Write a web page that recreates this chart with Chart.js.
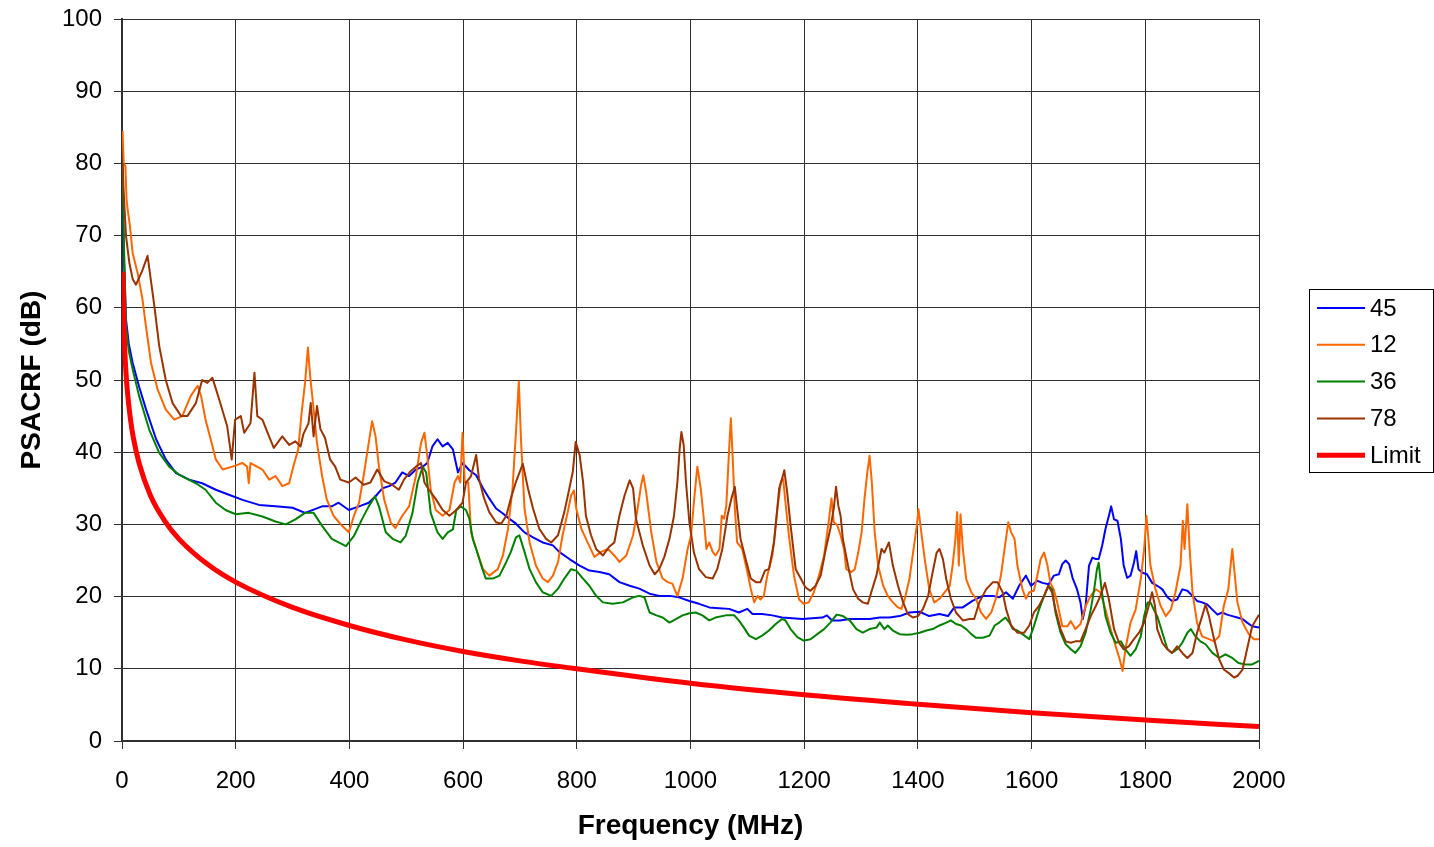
<!DOCTYPE html>
<html lang="en">
<head>
    <meta charset="UTF-8">
    <title>PSACRF</title>
    <script src="https://cdn.jsdelivr.net/npm/chart.js"></script>
    <style>
        body { margin: 0; background: #fff; }
    </style>
</head>
<body>
    <canvas id="psacrf-chart" width="1434" height="847"></canvas>

    <script>
        // axis ticks
        const xTicks = [0, 200, 400, 600, 800, 1000, 1200, 1400, 1600, 1800, 2000];
        const yTicks = [0, 10, 20, 30, 40, 50, 60, 70, 80, 90, 100];

        // series, [MHz, dB]
        const s45 = [[1,78],[3,68],[7,58.4],[12,55],[18.7,52.4],[30,49.1],[42,46],[60,41.8],[77,39],[95,37.1],[118,36.2],[141,35.7],[165,34.8],[188,34.1],[212,33.4],[241,32.7],[270,32.5],[300,32.3],[322,31.6],[352,32.5],[369,32.5],[381,33],[399,32],[417,32.5],[434,33],[446,33.9],[458,35],[470,35.3],[481,35.8],[493,37.2],[505,36.7],[517,37.6],[529,38],[537,38.5],[546,40.8],[555,41.8],[564,40.8],[573,41.3],[582,40.4],[591,37.2],[599,38.5],[611,37.5],[623,36.8],[635,35],[646,33.6],[658,32.2],[670,31.5],[681,30.8],[693,30.1],[708,28.9],[723,28.2],[740,27.5],[758,27.1],[769,26.2],[787,25.2],[805,24.3],[822,23.6],[840,23.4],[857,23.1],[875,22],[893,21.5],[910,21.1],[928,20.4],[945,20.1],[963,20.1],[980,19.9],[998,19.4],[1015,19],[1033,18.5],[1050,18.4],[1068,18.3],[1085,17.8],[1100,18.3],[1109,17.6],[1126,17.6],[1144,17.4],[1161,17.1],[1179,17],[1197,16.9],[1214,17],[1232,17.1],[1240,17.4],[1249,16.7],[1263,16.7],[1280,16.9],[1298,16.9],[1315,16.9],[1333,17.1],[1350,17.1],[1368,17.3],[1385,17.8],[1403,17.9],[1420,17.3],[1438,17.6],[1453,17.3],[1464,18.5],[1479,18.5],[1496,19.4],[1514,20.1],[1532,20.1],[1543,19.9],[1555,20.6],[1567,19.7],[1578,21.5],[1590,22.9],[1599,21.5],[1610,22.2],[1619,21.9],[1630,21.7],[1639,22.9],[1648,23.1],[1654,24.5],[1660,25],[1666,24.5],[1672,22.6],[1680,21],[1686,19.2],[1690,16.9],[1695,18.7],[1701,24.3],[1707,25.4],[1713,25.2],[1718,25.2],[1724,27],[1730,29.4],[1736,31.2],[1740,32.5],[1745,30.7],[1751,30.5],[1757,28],[1762,24.3],[1768,22.6],[1774,22.9],[1780,24.7],[1784,26.3],[1788,23.8],[1795,23.3],[1803,23.1],[1812,21.9],[1821,21.5],[1830,21],[1839,19.9],[1847,19.4],[1856,19.6],[1865,21],[1874,20.8],[1883,20.1],[1891,19.4],[1900,19.2],[1909,18.9],[1918,18.2],[1927,17.5],[1935,17.8],[1944,17.5],[1953,17.3],[1962,17.1],[1971,16.9],[1979,16.4],[1988,15.9],[2000,15.7]];

        const s12 = [[1,84.5],[3,80],[6,79.6],[8,75],[10,73.6],[14,71.3],[18.7,67.6],[27.5,64.8],[36,61.2],[42,57.5],[51,52.4],[62.6,48.7],[77,45.9],[92,44.5],[106,45],[121,47.8],[133,49.2],[139,47.8],[147,44.5],[156,41.8],[165,39],[177,37.6],[194,38],[212,38.5],[220,38],[223,35.7],[226,38.5],[247,37.6],[259,36.2],[270,36.7],[282,35.3],[294,35.7],[302,38.2],[310,40.4],[316,45.5],[322,49.6],[327,54.5],[331,50.5],[337,46],[343,41.3],[352,36.7],[360,33.5],[372,31.2],[387,29.8],[399,28.9],[408,31.2],[417,33],[425,36.7],[434,41.3],[440,44.3],[446,42.2],[452,38],[461,33.5],[473,30.2],[481,29.5],[493,31.2],[505,32.5],[517,36.7],[526,41.3],[532,42.7],[537,39.5],[543,34.8],[552,32],[564,31.2],[576,32],[585,35.8],[591,36.7],[595,35.8],[599,42.7],[603,35.8],[609,35.8],[614,28.9],[623,26.6],[635,23.8],[646,22.9],[661,23.8],[670,25.7],[679,29.4],[687,35],[693,42.8],[698,49.8],[702,41.4],[708,32.2],[717,27.5],[728,24.3],[740,22.5],[749,22],[758,22.9],[767,24.8],[775,28.5],[784,31.7],[790,34],[795,34.7],[799,32.2],[808,29.4],[819,27.5],[831,25.5],[843,26.2],[855,26.6],[866,25.7],[875,24.8],[887,25.7],[899,28.5],[907,32.2],[913,35.4],[917,36.8],[922,34.5],[931,28.9],[940,24.8],[951,22.5],[960,22],[968,21.8],[977,20.1],[986,22.5],[995,26.6],[1001,28.5],[1006,33.1],[1012,38],[1018,35],[1024,30.3],[1028,26.6],[1033,27.5],[1039,26.2],[1044,25.7],[1051,26.6],[1055,31.2],[1059,30.8],[1063,32.6],[1068,40.5],[1071,44.7],[1074,39.6],[1078,32.2],[1082,27.5],[1091,26.6],[1100,23.4],[1106,21.1],[1112,19.2],[1118,20.1],[1123,19.6],[1129,20.1],[1135,22.9],[1144,25.7],[1153,32.2],[1159,35.9],[1163,36.3],[1167,33.1],[1173,28.5],[1182,22.9],[1191,19.6],[1199,19],[1208,19.2],[1217,20.6],[1226,22.9],[1235,25.7],[1243,30.3],[1248,33.6],[1252,30.3],[1258,29.9],[1264,28.5],[1270,26.6],[1274,23.8],[1283,23.4],[1289,23.8],[1295,26.1],[1301,28.9],[1306,33.5],[1311,37.2],[1315,39.5],[1319,35.8],[1324,28.9],[1330,24.3],[1339,21.5],[1347,20.1],[1356,19.2],[1365,18.5],[1371,18.3],[1377,19.7],[1385,22.4],[1394,27.5],[1398,29.8],[1401,32.1],[1406,28.9],[1412,25.2],[1420,21],[1429,19.2],[1438,19.7],[1447,20.6],[1456,21.5],[1461,24.3],[1466,28],[1469,31.7],[1472,24.3],[1475,31.4],[1479,26.6],[1485,22.4],[1494,20.6],[1502,19.7],[1511,17.8],[1520,16.9],[1529,17.8],[1537,19.7],[1546,22.9],[1554,27.5],[1559,30.3],[1564,28.9],[1570,28],[1575,24.3],[1584,21],[1590,19.7],[1596,20.6],[1604,20.8],[1610,22.9],[1616,25.2],[1622,26.1],[1628,24.3],[1633,21.9],[1639,21],[1645,19.2],[1654,15.9],[1663,15.9],[1669,16.6],[1677,15.5],[1686,16.2],[1695,18.7],[1704,20.1],[1713,21],[1721,20.6],[1730,18.2],[1739,15.5],[1748,13.1],[1755,11.3],[1760,9.7],[1765,12.7],[1774,16.4],[1783,18.2],[1792,22.4],[1798,26.6],[1802,31.2],[1805,28.4],[1809,24.3],[1818,21],[1827,18.7],[1836,17.3],[1845,18.2],[1853,20.6],[1862,24.3],[1866,30.5],[1869,26.6],[1874,32.8],[1878,26.6],[1883,20.6],[1891,16.4],[1900,14.5],[1912,14.1],[1921,13.8],[1930,14.5],[1938,18.7],[1946,21],[1950,24.3],[1953,26.6],[1957,23.3],[1962,19.2],[1971,16.4],[1982,14.8],[1991,14.1],[2000,14.1]];

        const s36 = [[1,80],[3,70],[7,57.5],[12,54],[18.7,51.5],[30,47.8],[48,43.1],[65.5,39.9],[83,38],[100,36.9],[130,35.7],[147,34.8],[165,33],[182,32],[200,31.4],[223,31.6],[247,31.1],[270,30.4],[288,30],[305,30.7],[322,31.6],[337,31.6],[352,29.8],[369,28],[381,27.5],[394,27],[408,28.4],[422,30.7],[434,32.5],[445,33.9],[452,32.5],[464,28.9],[476,28],[490,27.5],[499,28.4],[511,31.6],[520,35.8],[529,38],[535,37.2],[543,31.6],[555,28.9],[564,28],[573,28.9],[582,29.3],[588,32],[596,32.5],[605,32],[611,30.8],[617,28],[623,26.6],[632,24.3],[640,22.5],[652,22.5],[664,22.9],[676,24.8],[684,26.2],[693,28.2],[699,28.5],[708,26.2],[717,23.8],[728,22],[740,20.6],[755,20.1],[767,21.1],[778,22.5],[790,23.8],[799,23.6],[811,22.5],[822,21.5],[834,20.1],[846,19.2],[863,19],[881,19.2],[899,19.9],[910,20.1],[919,19.9],[928,17.8],[940,17.4],[951,17.1],[963,16.4],[975,16.9],[986,17.4],[998,17.7],[1009,17.8],[1021,17.4],[1033,16.7],[1044,17.1],[1062,17.4],[1077,17.4],[1085,16.7],[1094,15.7],[1103,14.6],[1115,14.1],[1126,14.6],[1138,15.3],[1150,16.2],[1161,16.9],[1167,16.7],[1176,15.5],[1188,14.4],[1199,13.9],[1211,14.1],[1223,14.8],[1235,15.5],[1246,16.4],[1257,17.5],[1268,17.3],[1280,16.7],[1292,15.5],[1303,15],[1315,15.5],[1327,15.7],[1333,16.4],[1341,15.5],[1347,16],[1356,15.3],[1368,14.8],[1380,14.7],[1391,14.8],[1403,15],[1415,15.3],[1426,15.5],[1438,16],[1450,16.4],[1458,16.7],[1467,16.2],[1476,16],[1485,15.5],[1494,14.8],[1502,14.3],[1514,14.3],[1526,14.6],[1535,16],[1543,16.4],[1554,17.1],[1561,16.4],[1567,15.5],[1575,15.3],[1584,14.8],[1596,14.1],[1604,15.9],[1613,18.2],[1622,20.1],[1630,21.5],[1636,21],[1642,17.8],[1651,15],[1660,13.4],[1669,12.7],[1677,12.2],[1686,13.1],[1695,15],[1704,18.2],[1710,21],[1715,23.8],[1718,24.7],[1723,21],[1730,17.3],[1739,15],[1748,13.6],[1757,13.8],[1765,12.7],[1774,11.8],[1783,12.7],[1792,14.5],[1798,17.3],[1804,19.2],[1809,19.2],[1815,18.2],[1821,17.3],[1830,15],[1839,12.7],[1847,12.2],[1856,12.7],[1865,13.6],[1874,15],[1880,15.5],[1888,14.5],[1897,13.8],[1906,13.4],[1918,12.2],[1930,11.5],[1941,12],[1953,11.5],[1964,10.8],[1976,10.6],[1988,10.6],[2000,11.1]];

        const s78 = [[1,80],[3,76],[7,70],[13,66.2],[18.7,64],[24.6,63.2],[35,65],[45,67.2],[57,60.2],[65.5,54.7],[77,50],[89,46.8],[104,45],[115,45],[130,46.8],[141,50],[150,49.6],[159,50.3],[171,47.3],[185,43.6],[193,39],[199,44.5],[209,45],[215,42.7],[226,44],[233,51],[238,45],[247,44.5],[256,42.7],[267,40.6],[282,42.2],[294,41],[305,41.5],[314,40.8],[319,42.5],[328,44],[332,46.8],[337,42.2],[343,46.4],[349,43.2],[357,42],[366,39],[375,38],[384,36.2],[399,35.8],[411,36.5],[425,35.5],[437,35.8],[449,37.6],[461,36],[475,35.5],[487,34.8],[496,36.2],[508,37.4],[517,38],[526,38.5],[532,35.8],[540,34.8],[552,33.5],[564,32],[576,31.2],[588,32],[599,33],[605,35.8],[614,36.7],[623,39.6],[628,36.3],[637,33.6],[646,31.7],[658,30.3],[667,30.1],[676,31.2],[684,33.6],[693,35.9],[705,38.4],[714,35],[723,32.2],[734,29.4],[746,28],[755,27.5],[767,28.5],[778,31.7],[787,35],[793,37.3],[798,41.4],[805,39.6],[811,35.9],[816,31.2],[825,28.5],[834,26.6],[846,25.7],[857,26.9],[866,27.5],[875,31.2],[884,34],[893,36.1],[899,35],[904,30.8],[916,27.1],[928,24.3],[937,23.1],[945,23.8],[954,25.5],[963,28],[971,31.2],[977,35.9],[981,40.5],[984,42.8],[988,41],[992,35.9],[998,30.3],[1006,26.1],[1015,23.8],[1027,22.7],[1039,22.5],[1047,23.8],[1056,26.6],[1065,31.2],[1072,33.6],[1078,35.2],[1082,32.2],[1088,28],[1097,25.2],[1106,22.5],[1115,22],[1123,22],[1131,23.6],[1138,23.8],[1147,27.5],[1156,35],[1161,36.3],[1165,37.5],[1170,34.5],[1176,29.9],[1185,23.8],[1194,22.5],[1202,21.3],[1211,20.8],[1220,21.5],[1229,22.9],[1237,26.2],[1246,29.4],[1252,32.2],[1256,35.2],[1260,32.6],[1264,31.2],[1268,28],[1277,24.3],[1286,21],[1295,19.7],[1303,19.2],[1312,19],[1318,20.6],[1327,22.9],[1336,26.6],[1341,26.1],[1349,27.5],[1356,24.3],[1365,21.5],[1374,19.2],[1382,17.6],[1391,17.1],[1400,17.3],[1409,18.3],[1418,20.1],[1426,23.4],[1433,26.1],[1438,26.6],[1444,25.2],[1450,22.4],[1458,19.7],[1467,17.8],[1479,16.7],[1491,16.9],[1499,16.9],[1508,19.2],[1520,21],[1532,22],[1540,22],[1549,20.6],[1555,18.3],[1564,16],[1575,15],[1587,15],[1596,16],[1604,17.8],[1613,18.7],[1622,20.1],[1629,21.5],[1636,20.6],[1642,18.2],[1651,15.5],[1660,13.8],[1669,13.6],[1677,13.8],[1686,13.8],[1695,15.5],[1704,17.3],[1713,18.7],[1721,20.1],[1729,21.9],[1736,19.6],[1745,15.5],[1754,13.6],[1762,12.7],[1771,13.1],[1780,14.1],[1789,15],[1798,16.4],[1806,18.7],[1812,20.6],[1817,18.7],[1821,15.5],[1830,13.6],[1839,12.7],[1847,12.2],[1856,13.1],[1865,12.2],[1874,11.5],[1883,12.2],[1891,15],[1900,17.3],[1906,18.9],[1912,17.3],[1921,14.1],[1930,11.3],[1938,9.9],[1947,9.4],[1956,8.8],[1962,9],[1971,9.9],[1979,12.7],[1988,15.9],[2000,17.5]];

        const limit = [[1.5,65],[2,62],[3,58.5],[5,54],[7,51],[10,48],[15,44.5],[20,42],[30,38.5],[50,34],[75,30.5],[100,28],[150,24.5],[200,22],[300,18.5],[400,16],[500,14],[600,12.4],[700,11.1],[800,10],[1000,8],[1200,6.4],[1400,5.1],[1600,3.9],[1800,2.9],[2000,2]];

        const FONT = 'Liberation Sans, Arial, sans-serif';

        function toPoints(arr) {
            return arr.map(p => ({ x: p[0], y: p[1] }));
        }

        function series(label, arr, color, width, order) {
            return {
                label: label,
                data: toPoints(arr),
                borderColor: color,
                backgroundColor: color,
                borderWidth: width,
                pointRadius: 0,
                tension: 0,
                borderJoinStyle: 'round',
                fill: false,
                order: order
            };
        }

        // legend box on the right, Excel style
        const boxLegend = {
            id: 'boxLegend',
            afterDraw(chart) {
                const ctx = chart.ctx;
                ctx.save();
                ctx.strokeStyle = '#000';
                ctx.lineWidth = 1;
                ctx.strokeRect(1309.5, 289.5, 124, 183);
                ctx.font = '24px ' + FONT;
                ctx.textBaseline = 'middle';
                ctx.fillStyle = '#000';
                chart.data.datasets.forEach((ds, i) => {
                    const y = 308 + i * 36.8;
                    ctx.strokeStyle = ds.borderColor;
                    ctx.lineWidth = ds.borderWidth;
                    ctx.beginPath();
                    ctx.moveTo(1317, y);
                    ctx.lineTo(1365, y);
                    ctx.stroke();
                    ctx.fillText(ds.label, 1370, y + 1);
                });
                ctx.restore();
            }
        };

        const limitSet = series('Limit', limit, '#FF0000', 5, 1);
        limitSet.cubicInterpolationMode = 'monotone';

        const plain = v => String(v);

        const ctx = document.getElementById('psacrf-chart').getContext('2d');
        new Chart(ctx, {
            type: 'line',
            data: {
                datasets: [
                    series('45', s45, '#0000FF', 2, 5),
                    series('12', s12, '#FF6600', 2, 4),
                    series('36', s36, '#008000', 2, 3),
                    series('78', s78, '#993300', 2, 2),
                    limitSet
                ]
            },
            options: {
                responsive: false,
                animation: false,
                layout: { padding: { top: 19, right: 175, left: 0, bottom: 0 } },
                plugins: {
                    legend: { display: false },
                    tooltip: { enabled: false }
                },
                scales: {
                    x: {
                        type: 'linear',
                        min: 0,
                        max: 2000,
                        afterBuildTicks: axis => { axis.ticks = xTicks.map(v => ({ value: v })); },
                        afterFit: axis => { axis.height = 106; axis.paddingLeft = 0; axis.paddingRight = 0; },
                        ticks: { color: '#000', padding: 18, maxRotation: 0, callback: plain, font: { size: 24, family: FONT } },
                        grid: { color: '#303030', lineWidth: 1, tickLength: 8 },
                        border: { color: '#303030', width: 2 },
                        title: {
                            display: true,
                            text: 'Frequency (MHz)',
                            color: '#000',
                            font: { size: 28, weight: 'bold', family: FONT },
                            padding: { top: 0, bottom: 4 }
                        }
                    },
                    y: {
                        min: 0,
                        max: 100,
                        afterBuildTicks: axis => { axis.ticks = yTicks.map(v => ({ value: v })); },
                        afterFit: axis => { axis.width = 122; axis.paddingTop = 0; axis.paddingBottom = 0; },
                        ticks: { color: '#000', padding: 12, callback: plain, font: { size: 24, family: FONT } },
                        grid: { color: '#303030', lineWidth: 1, tickLength: 8 },
                        border: { color: '#303030', width: 2 },
                        title: {
                            display: true,
                            text: 'PSACRF (dB)',
                            color: '#000',
                            font: { size: 28, weight: 'bold', family: FONT },
                            padding: { top: 15, bottom: 0 }
                        }
                    }
                }
            },
            plugins: [boxLegend]
        });
    </script>
</body>
</html>
